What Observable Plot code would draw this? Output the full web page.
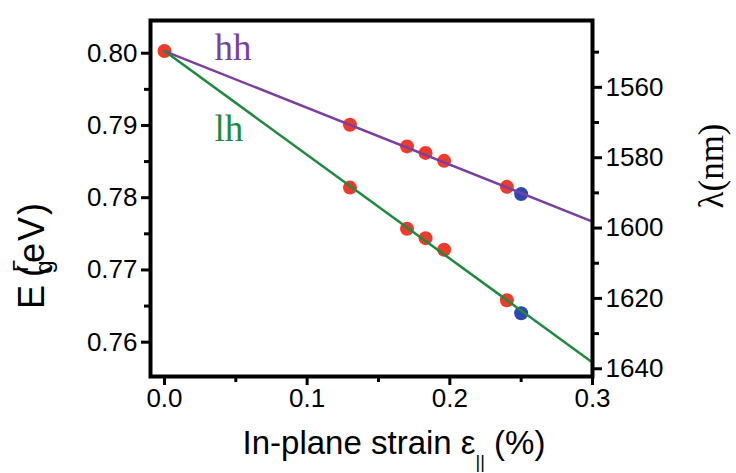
<!DOCTYPE html>
<html><head><meta charset="utf-8">
<script src="https://cdn.jsdelivr.net/npm/d3@7"></script>
<script src="https://cdn.jsdelivr.net/npm/@observablehq/plot@0.6"></script>
<style>body{margin:0;background:#fff}</style>
</head><body><div id="chart"></div>
<script>
// ---- data ----
const strainRedHh = [0, 0.13, 0.17, 0.183, 0.196, 0.24];
const hhRed       = [0.8003, 0.7901, 0.7871, 0.7862, 0.7851, 0.7815];
const strainRedLh = [0.13, 0.17, 0.183, 0.196, 0.24];
const lhRed       = [0.7814, 0.7757, 0.7744, 0.7728, 0.7658];
const strainBlue  = [0.25];
const hhBlue      = [0.7805];
const lhBlue      = [0.7640];
const fitStrain   = [0, 0.3];
const hhFit       = [0.8003, 0.7767];
const lhFit       = [0.8003, 0.7572];
const bandLabels  = ["hh", "lh"];
const bandLabelStrain = [0.035, 0.035];
const bandLabelE      = [0.7990, 0.7879];
const xMajorTicks = [0, 0.1, 0.2, 0.3];
const xMinorTicks = [0.05, 0.15, 0.25];
const yMajorTicks = [0.76, 0.77, 0.78, 0.79, 0.80];
const yMinorTicks = [0.765, 0.775, 0.785, 0.795];
const lamMajorTicks = [1560, 1580, 1600, 1620, 1640];
const lamMinorTicks = [1550, 1570, 1590, 1610, 1630];
const xDomain = [-0.0098, 0.3];
const yDomain = [0.75525, 0.80453];
const lamDomain = [1541.0, 1642.2]; // top -> bottom of right axis

// ---- helpers ----
const lamToE = l => yDomain[1] + (l - lamDomain[0]) * (yDomain[0] - yDomain[1]) / (lamDomain[1] - lamDomain[0]);
const eToLam = e => lamDomain[0] + (e - yDomain[1]) * (lamDomain[1] - lamDomain[0]) / (yDomain[0] - yDomain[1]);
const toRows = (xs, ys) => xs.map((s, i) => ({strain: s, E: ys[i]}));
const blank = () => "";

const RED = "#ee3a2a", BLUE = "#2f47b3", PURPLE = "#7a3fa0", GREEN = "#1e8a40";
const serif = "'Liberation Serif', 'DejaVu Serif', serif";
const sans = "'Liberation Sans', Arial, sans-serif";

const chart = Plot.plot({
  width: 736, height: 473,
  marginLeft: 150, marginRight: 144, marginTop: 20, marginBottom: 97,
  style: {fontFamily: sans, fontSize: "26px", background: "white", color: "black"},
  x: {domain: xDomain, label: null},
  y: {domain: yDomain, label: null},
  marks: [
    Plot.dot(toRows(strainRedHh, hhRed), {x: "strain", y: "E", r: 7, fill: RED}),
    Plot.dot(toRows(strainRedLh, lhRed), {x: "strain", y: "E", r: 7, fill: RED}),
    Plot.dot(toRows(strainBlue, hhBlue), {x: "strain", y: "E", r: 7, fill: BLUE}),
    Plot.dot(toRows(strainBlue, lhBlue), {x: "strain", y: "E", r: 7, fill: BLUE}),
    Plot.line(toRows(fitStrain, hhFit), {x: "strain", y: "E", stroke: PURPLE, strokeWidth: 2.5}),
    Plot.line(toRows(fitStrain, lhFit), {x: "strain", y: "E", stroke: GREEN, strokeWidth: 2.5}),
    Plot.text(bandLabels.map((t, i) => ({t, strain: bandLabelStrain[i], E: bandLabelE[i]})), {
      x: "strain", y: "E", text: "t", textAnchor: "start", lineAnchor: "bottom",
      fontFamily: serif, fontSize: 37, fill: (d) => d.t === "hh" ? PURPLE : GREEN
    }),
    Plot.axisX(xMajorTicks, {tickSize: 9, strokeWidth: 3, tickPadding: 3, tickFormat: d3.format(".1f"), label: null, fontSize: 26}),
    Plot.axisX(xMinorTicks, {tickSize: 6, strokeWidth: 3, tickFormat: blank, label: null}),
    Plot.axisY(yMajorTicks, {tickSize: 9, strokeWidth: 3, tickPadding: 4, tickFormat: d3.format(".2f"), label: null, fontSize: 26}),
    Plot.axisY(yMinorTicks, {tickSize: 6, strokeWidth: 3, tickFormat: blank, label: null}),
    Plot.axisY(lamMajorTicks.map(lamToE), {anchor: "right", tickSize: 9, strokeWidth: 3, tickPadding: 4, tickFormat: d => String(Math.round(eToLam(d))), label: null, fontSize: 26}),
    Plot.axisY(lamMinorTicks.map(lamToE), {anchor: "right", tickSize: 6, strokeWidth: 3, tickFormat: blank, label: null}),
    Plot.frame({strokeWidth: 4})
  ]
});

const svg = d3.select(chart);
// x-axis title
const xt = svg.append("text")
  .attr("x", 394).attr("y", 454)
  .attr("text-anchor", "middle")
  .attr("font-family", sans)
  .attr("font-size", 33).attr("fill", "black");
xt.append("tspan").text("In-plane strain ε");
xt.append("tspan").attr("font-size", 18).attr("dy", 14).text("||");
xt.append("tspan").attr("dy", -14).text(" (%)");

// left y-axis title
const yl = svg.append("g").attr("transform", "translate(44,297) rotate(-90)")
  .attr("font-family", sans).attr("fill", "black");
yl.append("text").attr("x", 0).attr("y", 0).attr("font-size", 36).text("E");
yl.append("text").attr("x", 30).attr("y", 8).attr("font-size", 24).text("g");
yl.append("text").attr("x", 31).attr("y", -16).attr("font-size", 22).text("Γ");
yl.append("text").attr("x", 58).attr("y", 0).attr("font-size", 36).attr("letter-spacing", 2).text("(eV)");

// right y-axis title
svg.append("text")
  .attr("transform", "translate(723,166) rotate(-90)")
  .attr("text-anchor", "middle")
  .attr("font-family", serif).attr("font-size", 35).attr("fill", "black")
  .text("λ(nm)");

document.getElementById("chart").appendChild(chart);
</script>
</body></html>
